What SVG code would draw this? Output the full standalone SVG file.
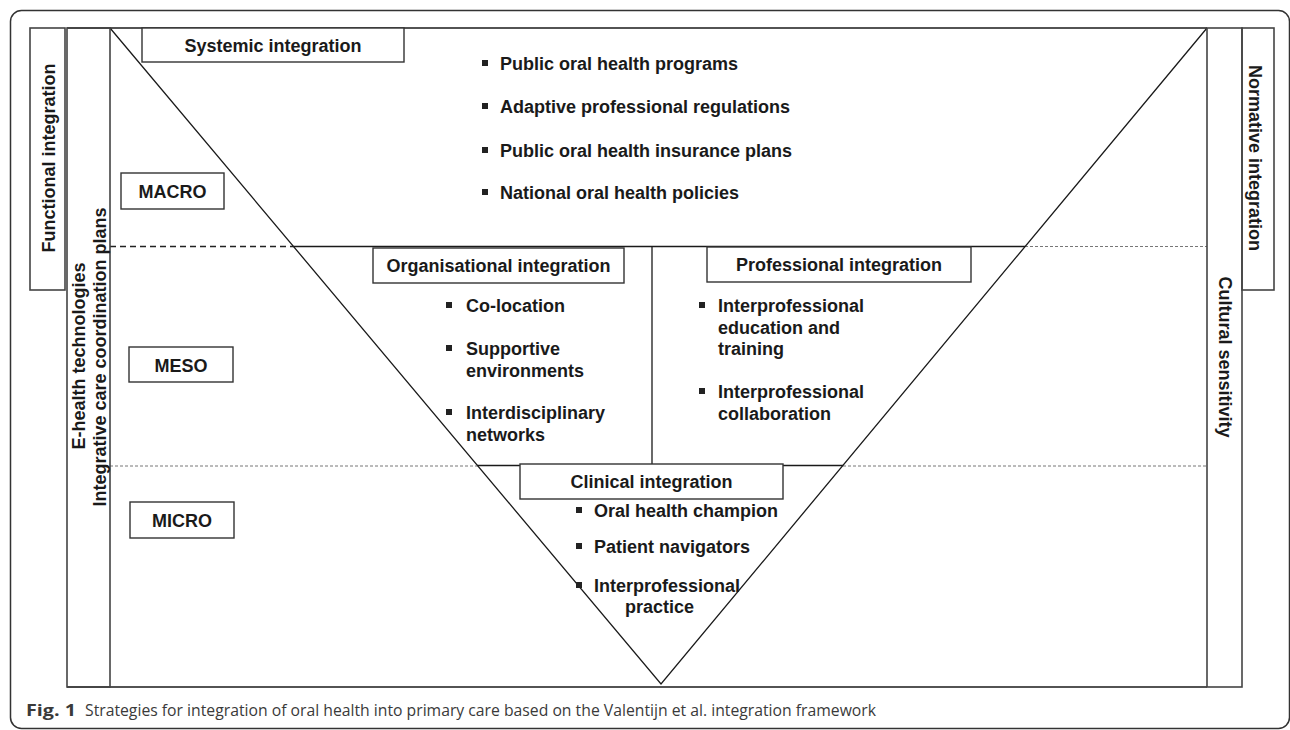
<svg xmlns="http://www.w3.org/2000/svg" width="1290" height="730" viewBox="0 0 1290 730">
<style>
.t{font-family:"Liberation Sans",Arial,sans-serif;font-weight:bold;font-size:18px;fill:#1a1a1a}
.c{text-anchor:middle}
.box{fill:#fff;stroke:#333;stroke-width:1.4}
.col{fill:none;stroke:#444;stroke-width:1.6}
.ln{fill:none;stroke:#1a1a1a;stroke-width:1.3}
.dl{fill:none;stroke:#777;stroke-width:1;stroke-dasharray:3 2}
.dh{fill:none;stroke:#222;stroke-width:1.3;stroke-dasharray:6 4}
.b{fill:#222}
.cap{font-family:"Open Sans","Noto Sans",sans-serif;font-size:16px;fill:#3a3a3a}
</style>
<rect width="1290" height="730" fill="#fff"/>
<rect id="frame" x="10.5" y="10.5" width="1279" height="718" rx="11" fill="none" stroke="#333" stroke-width="1.5"/>

<g id="connectors">
  <line class="dh" x1="110" y1="246.5" x2="293" y2="246.5"/>
  <line class="ln" x1="293" y1="246.5" x2="1025" y2="246.5"/>
  <line class="dl" x1="1025" y1="246.5" x2="1207" y2="246.5"/>
  <line class="dl" x1="110" y1="466" x2="477" y2="466"/>
  <line class="ln" x1="477" y1="465.5" x2="843" y2="465.5"/>
  <line class="dl" x1="843" y1="466" x2="1207" y2="466"/>
  <line class="ln" x1="652" y1="247" x2="652" y2="464"/>
  <polyline class="ln" points="110,28 661,684 1207,28"/>
  <line class="ln" x1="67" y1="28" x2="1207" y2="28"/>
  <line class="ln" x1="67" y1="687" x2="1207" y2="687"/>
</g>

<g id="functional-integration">
  <rect class="col" x="30" y="28" width="35" height="262"/>
  <text class="t c" transform="translate(55,158) rotate(-90)">Functional integration</text>
</g>
<g id="ehealth-column">
  <rect class="col" x="67" y="28" width="43" height="659"/>
  <text class="t c" transform="translate(85,356) rotate(-90)">E-health technologies</text>
  <text class="t c" transform="translate(106,357) rotate(-90)">Integrative care coordination plans</text>
</g>
<g id="cultural-sensitivity">
  <rect class="col" x="1207" y="28" width="35" height="659"/>
  <text class="t c" transform="translate(1219,357) rotate(90)">Cultural sensitivity</text>
</g>
<g id="normative-integration">
  <rect class="col" x="1242" y="28" width="32" height="262"/>
  <text class="t c" transform="translate(1249,158) rotate(90)">Normative integration</text>
</g>

<g id="systemic">
  <rect class="box" x="142" y="28" width="262" height="34"/>
  <text class="t c" x="273" y="52">Systemic integration</text>
</g>
<g id="macro">
  <rect class="box" x="121" y="173" width="103" height="36"/>
  <text class="t c" x="172.5" y="198">MACRO</text>
</g>
<g id="meso">
  <rect class="box" x="129" y="347" width="104" height="35"/>
  <text class="t c" x="181" y="372">MESO</text>
</g>
<g id="micro">
  <rect class="box" x="130" y="502" width="104" height="36"/>
  <text class="t c" x="182" y="527">MICRO</text>
</g>

<g id="systemic-items">
  <rect class="b" x="482" y="60" width="6" height="6"/>
  <text class="t" x="500" y="70">Public oral health programs</text>
  <rect class="b" x="482" y="103" width="6" height="6"/>
  <text class="t" x="500" y="113">Adaptive professional regulations</text>
  <rect class="b" x="482" y="147" width="6" height="6"/>
  <text class="t" x="500" y="157">Public oral health insurance plans</text>
  <rect class="b" x="482" y="189" width="6" height="6"/>
  <text class="t" x="500" y="199">National oral health policies</text>
</g>

<g id="organisational">
  <rect class="box" x="373" y="248" width="251" height="35"/>
  <text class="t c" x="498.5" y="272">Organisational integration</text>
  <rect class="b" x="446" y="302" width="6" height="6"/>
  <text class="t" x="466" y="312">Co-location</text>
  <rect class="b" x="446" y="345" width="6" height="6"/>
  <text class="t" x="466" y="355">Supportive</text>
  <text class="t" x="466" y="377">environments</text>
  <rect class="b" x="446" y="409" width="6" height="6"/>
  <text class="t" x="466" y="419">Interdisciplinary</text>
  <text class="t" x="466" y="441">networks</text>
</g>

<g id="professional">
  <rect class="box" x="707" y="247" width="264" height="35"/>
  <text class="t c" x="839" y="271">Professional integration</text>
  <rect class="b" x="699" y="302" width="6" height="6"/>
  <text class="t" x="718" y="312">Interprofessional</text>
  <text class="t" x="718" y="334">education and</text>
  <text class="t" x="718" y="355">training</text>
  <rect class="b" x="699" y="388" width="6" height="6"/>
  <text class="t" x="718" y="398">Interprofessional</text>
  <text class="t" x="718" y="420">collaboration</text>
</g>

<g id="clinical">
  <rect class="box" x="520" y="464" width="263" height="35"/>
  <text class="t c" x="651.5" y="488">Clinical integration</text>
  <rect class="b" x="576" y="507" width="6" height="6"/>
  <text class="t" x="594" y="517">Oral health champion</text>
  <rect class="b" x="576" y="543" width="6" height="6"/>
  <text class="t" x="594" y="553">Patient navigators</text>
  <rect class="b" x="576" y="582" width="6" height="6"/>
  <text class="t" x="594" y="592">Interprofessional</text>
  <text class="t" x="625" y="613">practice</text>
</g>

<g id="caption">
  <text class="cap" x="26" y="716" font-weight="bold" font-size="18" textLength="50" lengthAdjust="spacingAndGlyphs">Fig. 1</text>
  <text class="cap" x="85" y="716" textLength="791" lengthAdjust="spacingAndGlyphs">Strategies for integration of oral health into primary care based on the Valentijn et al. integration framework</text>
</g>
</svg>
